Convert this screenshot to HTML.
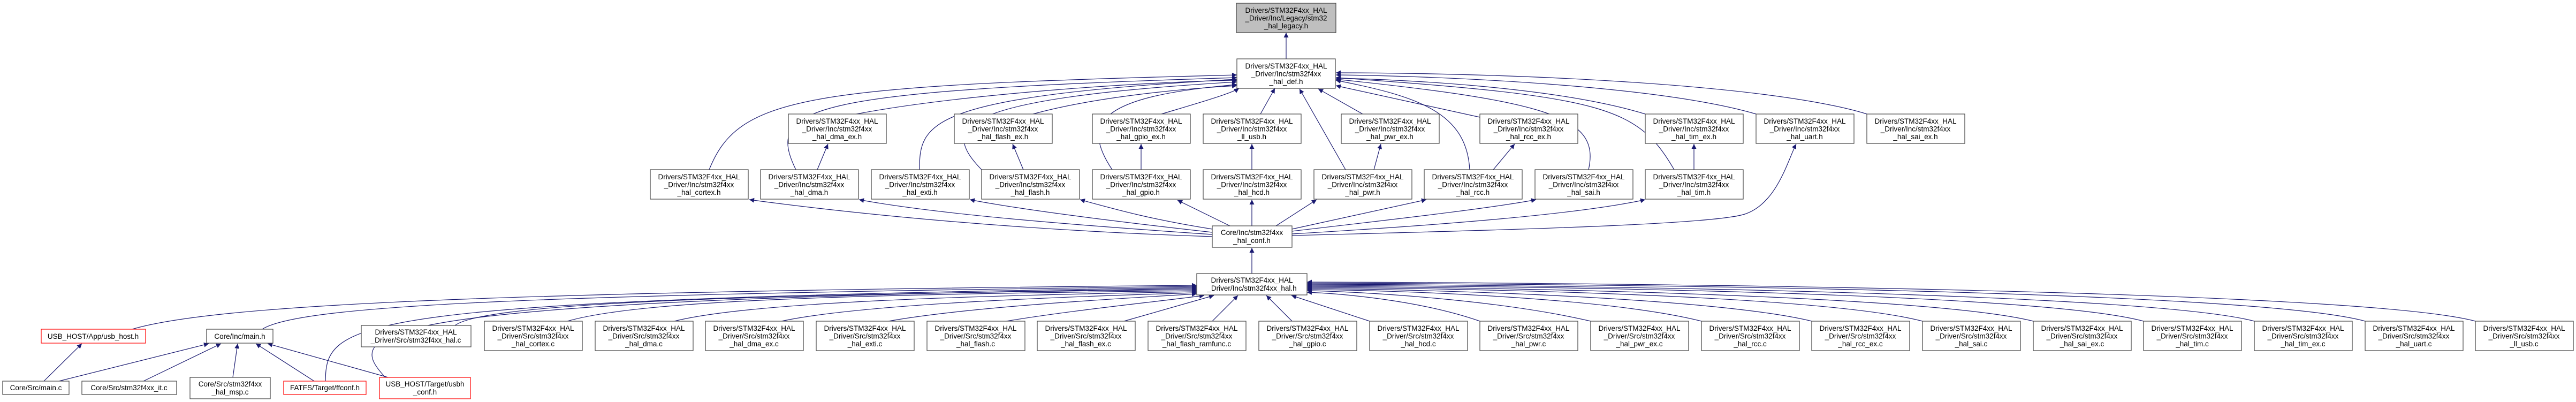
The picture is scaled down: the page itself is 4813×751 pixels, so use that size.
<!DOCTYPE html>
<html><head><meta charset="utf-8"><style>
html,body{margin:0;padding:0;background:#fff}
svg{display:block}
text{font-family:"Liberation Sans",sans-serif;font-size:13.5px;fill:#000;text-anchor:middle}
.b{fill:#fff;stroke:#444;stroke-width:1.2}
.r{fill:#fff;stroke:#f00;stroke-width:1.2}
.e{fill:none;stroke:#191970;stroke-width:1.2;marker-end:url(#a)}
</style></head><body>
<svg width="4813" height="751" viewBox="0 0 4813 751" xmlns="http://www.w3.org/2000/svg">
<defs><marker id="a" viewBox="0 0 10 10" refX="10" refY="5" markerWidth="11" markerHeight="9" markerUnits="userSpaceOnUse" orient="auto"><path d="M0,0L10,5L0,10z" fill="#191970"/></marker></defs>

<!-- edges -->
<path class="e" d="M2403,110L2403,61"/>
<path class="e" d="M1600,213C1800,175 2150,152 2311,150"/>
<path class="e" d="M1930,213C2050,180 2220,165 2311,160"/>
<path class="e" d="M2170,213C2230,195 2300,175 2315,165"/>
<path class="e" d="M2355,213L2382,165"/>
<path class="e" d="M2546,213L2463,166"/>
<path class="e" d="M2765,219L2496,160"/>
<path class="e" d="M3074,213C2900,160 2600,148 2496,146"/>
<path class="e" d="M3281,213C3100,160 2700,142 2496,140"/>
<path class="e" d="M3488,213C3300,155 2800,136 2496,136"/>
<path class="e" d="M1325,317C1380,180 1500,160 2311,140"/>
<path class="e" d="M1487,317C1430,200 1500,170 2311,145"/>
<path class="e" d="M1718,317C1718,230 1730,180 2311,148"/>
<path class="e" d="M1834,317C1760,240 1770,185 2311,153"/>
<path class="e" d="M2078,317C2020,230 2050,180 2311,158"/>
<path class="e" d="M2514,317L2428,166"/>
<path class="e" d="M2746,317C2740,210 2650,180 2496,150"/>
<path class="e" d="M2968,317C2990,220 2900,190 2496,148"/>
<path class="e" d="M3128,317C3060,200 3000,180 2496,145"/>
<path class="e" d="M1527,317L1547,269"/>
<path class="e" d="M1912,317L1892,269"/>
<path class="e" d="M2132,317L2132,269"/>
<path class="e" d="M2339,317L2339,269"/>
<path class="e" d="M2567,317L2580,269"/>
<path class="e" d="M2790,317L2830,269"/>
<path class="e" d="M3165,317L3165,269"/>
<path class="e" d="M2265,442C1900,430 1600,400 1400,373"/>
<path class="e" d="M2265,438C2000,420 1750,400 1605,373"/>
<path class="e" d="M2265,434C2050,410 1900,390 1812,373"/>
<path class="e" d="M2265,428C2150,410 2080,390 2018,373"/>
<path class="e" d="M2298,422L2200,374"/>
<path class="e" d="M2339,422L2339,373"/>
<path class="e" d="M2384,422L2460,373"/>
<path class="e" d="M2414,428L2665,373"/>
<path class="e" d="M2414,432C2600,410 2780,390 2870,373"/>
<path class="e" d="M2414,437C2700,420 2950,400 3074,373"/>
<path class="e" d="M2414,440C2800,430 3200,420 3260,400C3320,380 3340,300 3356,269"/>
<path class="e" d="M2339,511L2339,463"/>
<!-- to hal.h from bottom rows -->
<path class="e" d="M247,615C400,570 900,545 2236,533"/>
<path class="e" d="M490,615C560,570 1000,550 2236,535"/>
<path class="e" d="M608,712C610,600 640,560 2236,537"/>
<path class="e" d="M720,705C640,620 660,560 2236,539"/>
<path class="e" d="M850,608C900,570 1300,550 2236,541"/>
<path class="e" d="M1060,600C1200,560 1600,550 2236,543"/>
<path class="e" d="M1260,600C1400,565 1800,552 2236,545"/>
<path class="e" d="M1460,600C1600,570 1950,555 2236,547"/>
<path class="e" d="M1660,600C1800,575 2050,560 2236,549"/>
<path class="e" d="M1880,600C2000,580 2150,565 2250,552"/>
<path class="e" d="M2100,600L2268,552"/>
<path class="e" d="M2265,600L2313,552"/>
<path class="e" d="M2414,600L2366,552"/>
<path class="e" d="M2559,600L2413,552"/>
<path class="e" d="M2765,600C2650,560 2500,548 2442,546"/>
<path class="e" d="M2972,600C2800,560 2550,545 2442,543"/>
<path class="e" d="M3179,600C3000,555 2600,542 2442,541"/>
<path class="e" d="M3385,600C3200,555 2650,540 2442,539"/>
<path class="e" d="M3592,600C3400,550 2700,538 2442,537"/>
<path class="e" d="M3799,600C3600,550 2750,536 2442,535"/>
<path class="e" d="M4005,600C3800,545 2800,534 2442,533"/>
<path class="e" d="M4212,600C4000,545 2850,532 2442,531"/>
<path class="e" d="M4419,600C4200,540 2900,530 2442,529"/>
<path class="e" d="M4625,600C4400,540 2950,528 2442,527"/>
<!-- main.h / usb_host -->
<path class="e" d="M82,712L153,642"/>
<path class="e" d="M110,712L390,642"/>
<path class="e" d="M268,712L413,642"/>
<path class="e" d="M434,712L444,642"/>
<path class="e" d="M587,712L478,642"/>
<path class="e" d="M725,705L500,642"/>

<!-- nodes -->
<rect x="2310" y="6" width="186" height="55" fill="#bfbfbf" stroke="#444" stroke-width="1.2"/>
<text x="2403" y="24">Drivers/STM32F4xx_HAL</text><text x="2403" y="38.5">_Driver/Inc/Legacy/stm32</text><text x="2403" y="53">_hal_legacy.h</text>

<rect class="b" x="2311" y="110" width="184" height="55"/>
<text x="2403" y="128">Drivers/STM32F4xx_HAL</text><text x="2403" y="142.5">_Driver/Inc/stm32f4xx</text><text x="2403" y="157">_hal_def.h</text>

<g>
<rect class="b" x="1473" y="213" width="183" height="55"/><text x="1564" y="231">Drivers/STM32F4xx_HAL</text><text x="1564" y="245.5">_Driver/Inc/stm32f4xx</text><text x="1564" y="260">_hal_dma_ex.h</text>
<rect class="b" x="1783" y="213" width="183" height="55"/><text x="1874" y="231">Drivers/STM32F4xx_HAL</text><text x="1874" y="245.5">_Driver/Inc/stm32f4xx</text><text x="1874" y="260">_hal_flash_ex.h</text>
<rect class="b" x="2041" y="213" width="183" height="55"/><text x="2132" y="231">Drivers/STM32F4xx_HAL</text><text x="2132" y="245.5">_Driver/Inc/stm32f4xx</text><text x="2132" y="260">_hal_gpio_ex.h</text>
<rect class="b" x="2248" y="213" width="183" height="55"/><text x="2339" y="231">Drivers/STM32F4xx_HAL</text><text x="2339" y="245.5">_Driver/Inc/stm32f4xx</text><text x="2339" y="260">_ll_usb.h</text>
<rect class="b" x="2506" y="213" width="183" height="55"/><text x="2597" y="231">Drivers/STM32F4xx_HAL</text><text x="2597" y="245.5">_Driver/Inc/stm32f4xx</text><text x="2597" y="260">_hal_pwr_ex.h</text>
<rect class="b" x="2765" y="213" width="183" height="55"/><text x="2856" y="231">Drivers/STM32F4xx_HAL</text><text x="2856" y="245.5">_Driver/Inc/stm32f4xx</text><text x="2856" y="260">_hal_rcc_ex.h</text>
<rect class="b" x="3074" y="213" width="183" height="55"/><text x="3165" y="231">Drivers/STM32F4xx_HAL</text><text x="3165" y="245.5">_Driver/Inc/stm32f4xx</text><text x="3165" y="260">_hal_tim_ex.h</text>
<rect class="b" x="3281" y="213" width="183" height="55"/><text x="3372" y="231">Drivers/STM32F4xx_HAL</text><text x="3372" y="245.5">_Driver/Inc/stm32f4xx</text><text x="3372" y="260">_hal_uart.h</text>
<rect class="b" x="3488" y="213" width="183" height="55"/><text x="3579" y="231">Drivers/STM32F4xx_HAL</text><text x="3579" y="245.5">_Driver/Inc/stm32f4xx</text><text x="3579" y="260">_hal_sai_ex.h</text>
</g>

<g>
<rect class="b" x="1215" y="317" width="183" height="55"/><text x="1306" y="335">Drivers/STM32F4xx_HAL</text><text x="1306" y="349.5">_Driver/Inc/stm32f4xx</text><text x="1306" y="364">_hal_cortex.h</text>
<rect class="b" x="1421" y="317" width="183" height="55"/><text x="1512" y="335">Drivers/STM32F4xx_HAL</text><text x="1512" y="349.5">_Driver/Inc/stm32f4xx</text><text x="1512" y="364">_hal_dma.h</text>
<rect class="b" x="1628" y="317" width="183" height="55"/><text x="1719" y="335">Drivers/STM32F4xx_HAL</text><text x="1719" y="349.5">_Driver/Inc/stm32f4xx</text><text x="1719" y="364">_hal_exti.h</text>
<rect class="b" x="1834" y="317" width="183" height="55"/><text x="1925" y="335">Drivers/STM32F4xx_HAL</text><text x="1925" y="349.5">_Driver/Inc/stm32f4xx</text><text x="1925" y="364">_hal_flash.h</text>
<rect class="b" x="2041" y="317" width="183" height="55"/><text x="2132" y="335">Drivers/STM32F4xx_HAL</text><text x="2132" y="349.5">_Driver/Inc/stm32f4xx</text><text x="2132" y="364">_hal_gpio.h</text>
<rect class="b" x="2248" y="317" width="183" height="55"/><text x="2339" y="335">Drivers/STM32F4xx_HAL</text><text x="2339" y="349.5">_Driver/Inc/stm32f4xx</text><text x="2339" y="364">_hal_hcd.h</text>
<rect class="b" x="2455" y="317" width="183" height="55"/><text x="2546" y="335">Drivers/STM32F4xx_HAL</text><text x="2546" y="349.5">_Driver/Inc/stm32f4xx</text><text x="2546" y="364">_hal_pwr.h</text>
<rect class="b" x="2661" y="317" width="183" height="55"/><text x="2752" y="335">Drivers/STM32F4xx_HAL</text><text x="2752" y="349.5">_Driver/Inc/stm32f4xx</text><text x="2752" y="364">_hal_rcc.h</text>
<rect class="b" x="2868" y="317" width="183" height="55"/><text x="2959" y="335">Drivers/STM32F4xx_HAL</text><text x="2959" y="349.5">_Driver/Inc/stm32f4xx</text><text x="2959" y="364">_hal_sai.h</text>
<rect class="b" x="3074" y="317" width="183" height="55"/><text x="3165" y="335">Drivers/STM32F4xx_HAL</text><text x="3165" y="349.5">_Driver/Inc/stm32f4xx</text><text x="3165" y="364">_hal_tim.h</text>
</g>

<rect class="b" x="2265" y="422" width="149" height="40"/><text x="2339" y="439">Core/Inc/stm32f4xx</text><text x="2339" y="454">_hal_conf.h</text>
<rect class="b" x="2236" y="511" width="206" height="40"/><text x="2339" y="528">Drivers/STM32F4xx_HAL</text><text x="2339" y="543">_Driver/Inc/stm32f4xx_hal.h</text>

<rect class="r" x="77" y="615" width="195" height="26"/><text x="174" y="633">USB_HOST/App/usb_host.h</text>
<rect class="b" x="386" y="615" width="124" height="26"/><text x="448" y="633">Core/Inc/main.h</text>
<rect class="b" x="675" y="608" width="205" height="40"/><text x="777" y="625">Drivers/STM32F4xx_HAL</text><text x="777" y="640">_Driver/Src/stm32f4xx_hal.c</text>

<g>
<rect class="b" x="905" y="600" width="183" height="55"/><text x="996" y="618">Drivers/STM32F4xx_HAL</text><text x="996" y="632.5">_Driver/Src/stm32f4xx</text><text x="996" y="647">_hal_cortex.c</text>
<rect class="b" x="1112" y="600" width="183" height="55"/><text x="1203" y="618">Drivers/STM32F4xx_HAL</text><text x="1203" y="632.5">_Driver/Src/stm32f4xx</text><text x="1203" y="647">_hal_dma.c</text>
<rect class="b" x="1318" y="600" width="183" height="55"/><text x="1409" y="618">Drivers/STM32F4xx_HAL</text><text x="1409" y="632.5">_Driver/Src/stm32f4xx</text><text x="1409" y="647">_hal_dma_ex.c</text>
<rect class="b" x="1525" y="600" width="183" height="55"/><text x="1616" y="618">Drivers/STM32F4xx_HAL</text><text x="1616" y="632.5">_Driver/Src/stm32f4xx</text><text x="1616" y="647">_hal_exti.c</text>
<rect class="b" x="1732" y="600" width="183" height="55"/><text x="1823" y="618">Drivers/STM32F4xx_HAL</text><text x="1823" y="632.5">_Driver/Src/stm32f4xx</text><text x="1823" y="647">_hal_flash.c</text>
<rect class="b" x="1938" y="600" width="183" height="55"/><text x="2029" y="618">Drivers/STM32F4xx_HAL</text><text x="2029" y="632.5">_Driver/Src/stm32f4xx</text><text x="2029" y="647">_hal_flash_ex.c</text>
<rect class="b" x="2145" y="600" width="183" height="55"/><text x="2236" y="618">Drivers/STM32F4xx_HAL</text><text x="2236" y="632.5">_Driver/Src/stm32f4xx</text><text x="2236" y="647">_hal_flash_ramfunc.c</text>
<rect class="b" x="2352" y="600" width="183" height="55"/><text x="2443" y="618">Drivers/STM32F4xx_HAL</text><text x="2443" y="632.5">_Driver/Src/stm32f4xx</text><text x="2443" y="647">_hal_gpio.c</text>
<rect class="b" x="2559" y="600" width="183" height="55"/><text x="2650" y="618">Drivers/STM32F4xx_HAL</text><text x="2650" y="632.5">_Driver/Src/stm32f4xx</text><text x="2650" y="647">_hal_hcd.c</text>
<rect class="b" x="2765" y="600" width="183" height="55"/><text x="2856" y="618">Drivers/STM32F4xx_HAL</text><text x="2856" y="632.5">_Driver/Src/stm32f4xx</text><text x="2856" y="647">_hal_pwr.c</text>
<rect class="b" x="2972" y="600" width="183" height="55"/><text x="3063" y="618">Drivers/STM32F4xx_HAL</text><text x="3063" y="632.5">_Driver/Src/stm32f4xx</text><text x="3063" y="647">_hal_pwr_ex.c</text>
<rect class="b" x="3179" y="600" width="183" height="55"/><text x="3270" y="618">Drivers/STM32F4xx_HAL</text><text x="3270" y="632.5">_Driver/Src/stm32f4xx</text><text x="3270" y="647">_hal_rcc.c</text>
<rect class="b" x="3385" y="600" width="183" height="55"/><text x="3476" y="618">Drivers/STM32F4xx_HAL</text><text x="3476" y="632.5">_Driver/Src/stm32f4xx</text><text x="3476" y="647">_hal_rcc_ex.c</text>
<rect class="b" x="3592" y="600" width="183" height="55"/><text x="3683" y="618">Drivers/STM32F4xx_HAL</text><text x="3683" y="632.5">_Driver/Src/stm32f4xx</text><text x="3683" y="647">_hal_sai.c</text>
<rect class="b" x="3799" y="600" width="183" height="55"/><text x="3890" y="618">Drivers/STM32F4xx_HAL</text><text x="3890" y="632.5">_Driver/Src/stm32f4xx</text><text x="3890" y="647">_hal_sai_ex.c</text>
<rect class="b" x="4005" y="600" width="183" height="55"/><text x="4096" y="618">Drivers/STM32F4xx_HAL</text><text x="4096" y="632.5">_Driver/Src/stm32f4xx</text><text x="4096" y="647">_hal_tim.c</text>
<rect class="b" x="4212" y="600" width="183" height="55"/><text x="4303" y="618">Drivers/STM32F4xx_HAL</text><text x="4303" y="632.5">_Driver/Src/stm32f4xx</text><text x="4303" y="647">_hal_tim_ex.c</text>
<rect class="b" x="4419" y="600" width="183" height="55"/><text x="4510" y="618">Drivers/STM32F4xx_HAL</text><text x="4510" y="632.5">_Driver/Src/stm32f4xx</text><text x="4510" y="647">_hal_uart.c</text>
<rect class="b" x="4625" y="600" width="183" height="55"/><text x="4716" y="618">Drivers/STM32F4xx_HAL</text><text x="4716" y="632.5">_Driver/Src/stm32f4xx</text><text x="4716" y="647">_ll_usb.c</text>
</g>

<rect class="b" x="5" y="712" width="124" height="25"/><text x="67" y="729">Core/Src/main.c</text>
<rect class="b" x="153" y="712" width="177" height="25"/><text x="241" y="729">Core/Src/stm32f4xx_it.c</text>
<rect class="b" x="355" y="705" width="150" height="40"/><text x="430" y="722">Core/Src/stm32f4xx</text><text x="430" y="737">_hal_msp.c</text>
<rect class="r" x="530" y="712" width="154" height="25"/><text x="607" y="729">FATFS/Target/ffconf.h</text>
<rect class="r" x="709" y="705" width="170" height="40"/><text x="794" y="722">USB_HOST/Target/usbh</text><text x="794" y="737">_conf.h</text>
</svg>
</body></html>
